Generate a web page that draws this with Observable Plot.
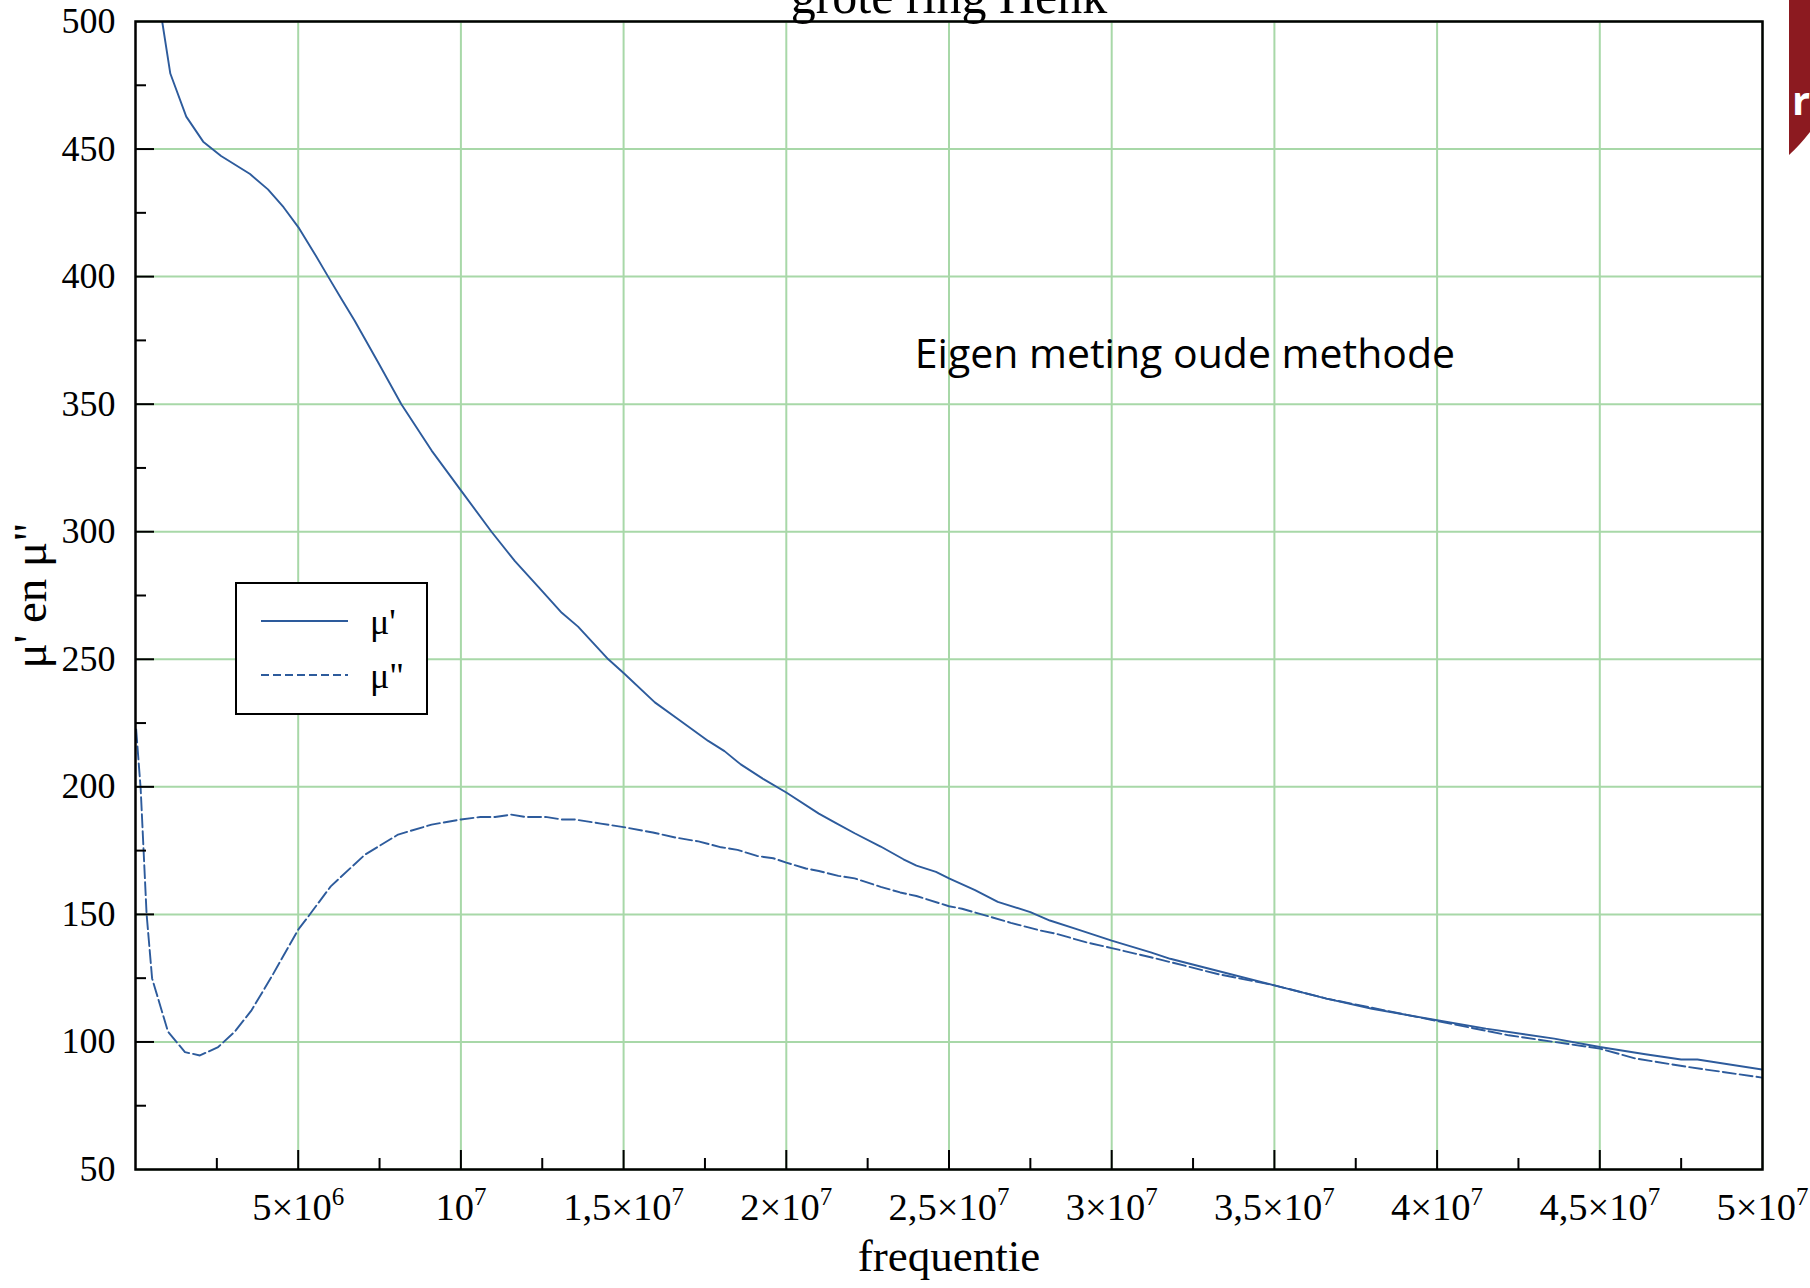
<!DOCTYPE html>
<html>
<head>
<meta charset="utf-8">
<script src="https://cdn.jsdelivr.net/npm/d3@7"></script>
<script src="https://cdn.jsdelivr.net/npm/@observablehq/plot@0.6"></script>
<style>
  html, body { margin: 0; padding: 0; background: #fff; overflow: hidden; width: 1810px; height: 1288px; }
  #wrap { position: relative; width: 1810px; height: 1288px; overflow: hidden; }
  #chart { position: absolute; left: 0; top: 0; }
  #legend { position: absolute; left: 235px; top: 582px; width: 193px; height: 133px; box-sizing: border-box;
            border: 2.5px solid #000; background: #fff; }
  #legend svg, #badge { position: absolute; left: 0; top: 0; overflow: visible; }
  #badge { left: 1789px; }
</style>
</head>
<body>
<div id="wrap">
  <div id="chart"></div>
  <div id="legend"></div>
  <svg id="badge" width="21" height="160">
    <path d="M0,0H21V132Q10,146 0,155Z" fill="#8c1a20"></path>
    <text x="3" y="115" font-size="40" font-weight="bold" fill="#fff" font-family="Open Sans, sans-serif">r</text>
  </svg>
</div>
<script>
// ---- chart data (frequency in Hz, permeability values) ----
const freqMuPrime = [0.82e6, 1.07e6, 1.56e6, 2.08e6, 2.63e6, 3.52e6, 4.07e6, 4.55e6, 5.03e6, 5.5e6,
  5.92e6, 6.33e6, 6.74e6, 7.45e6, 8.17e6, 9.1e6, 10.0e6, 10.94e6, 11.66e6, 12.38e6,
  13.1e6, 13.6e6, 14.53e6, 15.0e6, 15.96e6, 16.7e6, 17.6e6, 18.1e6, 18.6e6, 19.3e6,
  20.0e6, 21.0e6, 21.5e6, 22.1e6, 22.9e6, 23.6e6, 24.0e6, 24.6e6, 25.0e6, 25.8e6,
  26.5e6, 27.5e6, 28.1e6, 28.9e6, 30.0e6, 31.2e6, 31.8e6, 33.0e6, 35.0e6, 36.6e6,
  38.0e6, 40.0e6, 41.5e6, 43.6e6, 45.0e6, 46.4e6, 47.5e6, 48.0e6, 50.0e6];
const muPrime = [500, 479.6, 462.7, 452.9, 447.3, 440.2, 434.2, 427.2, 418.9, 409.1,
  400, 391.2, 382.6, 366.5, 350, 331.8, 316.2, 300, 288.5, 278.4,
  268.2, 262.8, 250, 244.6, 233.1, 226.3, 218, 214, 208.8, 203,
  197.8, 189.5, 186, 181.8, 176.6, 171.6, 169.1, 166.7, 164.1, 159.5,
  154.9, 150.9, 147.6, 144.3, 139.7, 135.1, 132.6, 128.7, 122.2, 117,
  113, 108.5, 105.2, 101.3, 98, 95.2, 93.1, 93.1, 89.2];

const freqMuDouble = [0.02e6, 0.16e6, 0.34e6, 0.51e6, 1.0e6, 1.52e6, 1.98e6, 2.54e6, 3.05e6, 3.57e6,
  4.18e6, 5.0e6, 5.3e6, 6.0e6, 7.05e6, 8.07e6, 9.1e6, 10.0e6, 10.6e6, 11.05e6,
  11.55e6, 11.97e6, 12.6e6, 13.1e6, 13.5e6, 14.3e6, 15.0e6, 15.9e6, 16.6e6, 17.3e6,
  18.0e6, 18.5e6, 19.1e6, 19.6e6, 20.0e6, 20.6e6, 21.0e6, 21.6e6, 22.1e6, 22.9e6,
  23.5e6, 24.0e6, 25.0e6, 25.4e6, 26.2e6, 26.9e6, 27.8e6, 28.3e6, 29.2e6, 30.0e6,
  31.2e6, 31.8e6, 33.3e6, 35.0e6, 36.6e6, 40.0e6, 42.2e6, 45.0e6, 46.1e6, 47.7e6, 50.0e6];
const muDouble = [222.5, 199, 150.3, 124.9, 104, 96, 94.7, 98, 104, 112.5,
  125.5, 144, 149, 161, 173.4, 181.3, 185.2, 187.2, 188.2, 188.2,
  189.1, 188.2, 188.2, 187.2, 187.2, 185.6, 184.2, 182.1, 180.1, 178.6,
  176.3, 175.3, 172.9, 172, 170.3, 168, 167, 165.1, 164.1, 160.8,
  158.6, 157.2, 153.2, 152.2, 149.3, 146.7, 143.7, 142.4, 139.1, 136.8,
  133.2, 131.3, 126.5, 122.2, 117, 108.2, 102.6, 97.4, 93.5, 90.2, 86];

const seriesNames = ["μ'", 'μ"'];
const xMajor = [5e6, 1e7, 1.5e7, 2e7, 2.5e7, 3e7, 3.5e7, 4e7, 4.5e7, 5e7];
// tick label: [mantissa prefix, exponent]
const xTickBase = ["5×10", "10", "1,5×10", "2×10", "2,5×10", "3×10", "3,5×10", "4×10", "4,5×10", "5×10"];
const xTickExp = ["6", "7", "7", "7", "7", "7", "7", "7", "7", "7"];
const xMinor = [2.5e6, 7.5e6, 1.25e7, 1.75e7, 2.25e7, 2.75e7, 3.25e7, 3.75e7, 4.25e7, 4.75e7];
const yMajor = [50, 100, 150, 200, 250, 300, 350, 400, 450, 500];
const yMinor = [75, 125, 175, 225, 275, 325, 375, 425, 475];

const titleText = "grote ring Henk";
const xLabelText = "frequentie";
const yLabelText = "μ' en μ\"";
const noteText = "Eigen meting oude methode";

// ---- build tables ----
const rowsPrime = freqMuPrime.map((f, i) => ({f, v: muPrime[i]}));
const rowsDouble = freqMuDouble.map((f, i) => ({f, v: muDouble[i]}));

const BLUE = "#2d5b9c";
const GRID = "#a8d8a8";
const SERIF = "Liberation Serif, Times New Roman, serif";

const chart = Plot.plot({
  width: 1810,
  height: 1288,
  marginLeft: 135,
  marginRight: 48,
  marginTop: 21,
  marginBottom: 119,
  style: {background: "transparent", overflow: "visible"},
  x: {domain: [0, 5e7]},
  y: {domain: [50, 500]},
  marks: [
    Plot.gridX(xMajor, {stroke: GRID, strokeOpacity: 1, strokeWidth: 2}),
    Plot.gridY(yMajor, {stroke: GRID, strokeOpacity: 1, strokeWidth: 2}),
    Plot.line(rowsDouble, {x: "f", y: "v", stroke: BLUE, strokeWidth: 1.9, strokeDasharray: "13,4", clip: true}),
    Plot.line(rowsPrime, {x: "f", y: "v", stroke: BLUE, strokeWidth: 1.9, clip: true}),
    Plot.frame({stroke: "#000", strokeWidth: 2.5}),
    Plot.ruleX(xMajor.slice(0, -1), {x: d => d, y1: 50, y2: 50, insetTop: -19, stroke: "#000", strokeWidth: 2}),
    Plot.ruleX(xMinor, {x: d => d, y1: 50, y2: 50, insetTop: -11, stroke: "#000", strokeWidth: 2}),
    Plot.ruleY(yMajor.slice(1, -1), {y: d => d, x1: 0, x2: 0, insetRight: -19, stroke: "#000", strokeWidth: 2}),
    Plot.ruleY(yMinor, {y: d => d, x1: 0, x2: 0, insetRight: -11, stroke: "#000", strokeWidth: 2}),
    Plot.axisX(xMajor, {tickSize: 0, tickPadding: 23,
      tickFormat: d => xTickBase[xMajor.indexOf(d)] + "^" + xTickExp[xMajor.indexOf(d)],
      fontSize: 38.5, fontFamily: SERIF, fill: "#000", label: null}),
    Plot.axisY(yMajor, {tickSize: 0, tickPadding: 20, tickFormat: d => String(d),
      fontSize: 36, fontFamily: SERIF, fill: "#000", label: null}),
    Plot.text([xLabelText], {frameAnchor: "bottom", lineAnchor: "bottom", dy: 101, fontSize: 45, fontFamily: SERIF, fill: "#000"}),
    Plot.text([yLabelText], {frameAnchor: "left", textAnchor: "middle", lineAnchor: "bottom", rotate: -90, dx: -90, fontSize: 47, fontFamily: SERIF, fill: "#000"}),
    Plot.text([titleText], {frameAnchor: "top", lineAnchor: "bottom", dy: -9, fontSize: 50, fontFamily: SERIF, fill: "#000"}),
    Plot.text([noteText], {x: 3.225e7, y: 369.5, fontSize: 41, fontFamily: "Open Sans, sans-serif", fill: "#000"})
  ]
});
document.getElementById("chart").appendChild(chart);

// superscript exponents in the x tick labels
d3.select(chart).selectAll('g[aria-label="x-axis tick label"] text').each(function () {
  const parts = this.textContent.split("^");
  if (parts.length !== 2) return;
  const t = d3.select(this);
  t.text(null);
  t.append("tspan").text(parts[0]);
  t.append("tspan").attr("font-size", 25).attr("dy", -15).text(parts[1]);
});

// ---- legend (inside the plot, top-left area) ----
const lg = d3.select("#legend").append("svg").attr("width", 193).attr("height", 133);
const legendRows = [
  {name: seriesNames[0], dash: null},
  {name: seriesNames[1], dash: "8,4"}
];
legendRows.forEach((r, i) => {
  const cy = 37 + i * 54;
  lg.append("line").attr("x1", 24).attr("x2", 111).attr("y1", cy).attr("y2", cy)
    .attr("stroke", BLUE).attr("stroke-width", 1.8).attr("stroke-dasharray", r.dash);
  lg.append("text").attr("x", 133).attr("y", cy + 13).attr("font-size", 36)
    .attr("font-family", SERIF).attr("fill", "#000").text(r.name);
});
</script>
</body>
</html>
